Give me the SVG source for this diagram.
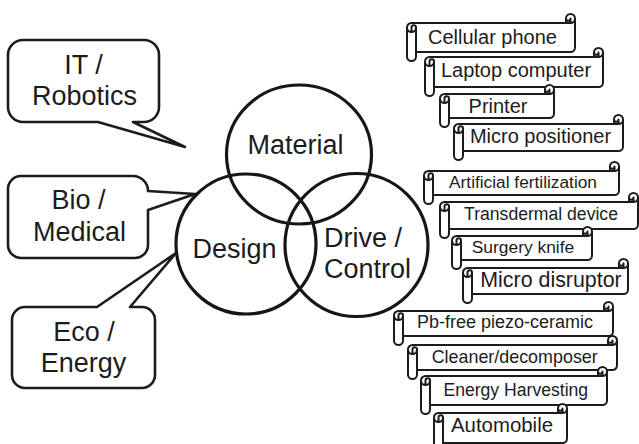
<svg xmlns="http://www.w3.org/2000/svg" width="639" height="444" viewBox="0 0 639 444">
  <style>
    .t { font-family: "Liberation Sans", Arial, Helvetica, sans-serif; fill: #1c1c1c; }
    .big { font-size: 27px; }
    .callout { fill: #fff; stroke: #1c1c1c; stroke-width: 2.6; stroke-linejoin: round; }
    .ring { fill: none; stroke: #161616; stroke-width: 3.2; }
    .scroll { fill: #fff; stroke: #1c1c1c; stroke-width: 2; stroke-linejoin: round; }
  </style>

  <!-- field callouts -->
  <g id="it-robotics">
    <path class="callout" d="M23,40 H144 A15,15 0 0 1 159,55 V107 A15,15 0 0 1 144,122 H133 L185,147 L98,122 H23 A15,15 0 0 1 8,107 V55 A15,15 0 0 1 23,40 Z"/>
    <text class="t big" x="83.5" y="74" text-anchor="middle">IT /</text>
    <text class="t big" x="84.5" y="105" text-anchor="middle">Robotics</text>
  </g>
  <g id="bio-medical">
    <path class="callout" d="M21,176 H133 A15,15 0 0 1 148,191 L195,194 L148,210 V245 A13,13 0 0 1 135,258 H21 A13,13 0 0 1 8,245 V189 A13,13 0 0 1 21,176 Z"/>
    <text class="t big" x="78.5" y="209" text-anchor="middle">Bio /</text>
    <text class="t big" x="79.5" y="241" text-anchor="middle">Medical</text>
  </g>
  <g id="eco-energy">
    <path class="callout" d="M25,307 H97 L176,253 L130,307 H142 A13,13 0 0 1 155,320 V375 A13,13 0 0 1 142,388 H25 A13,13 0 0 1 12,375 V320 A13,13 0 0 1 25,307 Z"/>
    <text class="t big" x="84" y="341" text-anchor="middle">Eco /</text>
    <text class="t big" x="83.5" y="372" text-anchor="middle">Energy</text>
  </g>

  <!-- three overlapping disciplines -->
  <g id="material">
    <ellipse class="ring" cx="299" cy="154.5" rx="72.5" ry="69.5"/>
    <text class="t big" x="295.5" y="154" text-anchor="middle">Material</text>
  </g>
  <g id="design">
    <ellipse class="ring" cx="246" cy="244" rx="70" ry="70"/>
    <text class="t big" x="234.5" y="258" text-anchor="middle">Design</text>
  </g>
  <g id="drive-control">
    <ellipse class="ring" cx="356.5" cy="245" rx="71.5" ry="71.5"/>
    <text class="t big" x="324" y="247">Drive /</text>
    <text class="t big" x="324" y="278">Control</text>
  </g>

  <!-- application scrolls -->
  <g id="cellular-phone" transform="translate(407,14)">
    <path class="scroll" d="M0,13.5 A4.5,4.5 0 0 1 4.5,9 H159 V4.5 A4.5,4.5 0 0 1 168,4.5 V33.5 A4.5,4.5 0 0 1 163.5,38 H9 V42.5 A4.5,4.5 0 0 1 0,42.5 Z M159,9 H163.5 A4.5,4.5 0 0 0 168,4.5 M163.5,9 V4.5 A2.25,2.25 0 0 1 159,4.5 M4.5,18 V13.5 A2.25,2.25 0 0 1 9,13.5 A4.5,4.5 0 0 1 0,13.5 M9,13.5 V38"/>
    <text class="t" font-size="20" x="85.5" y="30.3" text-anchor="middle">Cellular phone</text>
  </g>
  <g id="laptop-computer" transform="translate(425,48)">
    <path class="scroll" d="M0,13.5 A4.5,4.5 0 0 1 4.5,9 H169 V4.5 A4.5,4.5 0 0 1 178,4.5 V34.5 A4.5,4.5 0 0 1 173.5,39 H9 V43.5 A4.5,4.5 0 0 1 0,43.5 Z M169,9 H173.5 A4.5,4.5 0 0 0 178,4.5 M173.5,9 V4.5 A2.25,2.25 0 0 1 169,4.5 M4.5,18 V13.5 A2.25,2.25 0 0 1 9,13.5 A4.5,4.5 0 0 1 0,13.5 M9,13.5 V39"/>
    <text class="t" font-size="20" x="91" y="29.3" text-anchor="middle">Laptop computer</text>
  </g>
  <g id="printer" transform="translate(440,85)">
    <path class="scroll" d="M0,13.5 A4.5,4.5 0 0 1 4.5,9 H105 V4.5 A4.5,4.5 0 0 1 114,4.5 V28.5 A4.5,4.5 0 0 1 109.5,33 H9 V37.5 A4.5,4.5 0 0 1 0,37.5 Z M105,9 H109.5 A4.5,4.5 0 0 0 114,4.5 M109.5,9 V4.5 A2.25,2.25 0 0 1 105,4.5 M4.5,18 V13.5 A2.25,2.25 0 0 1 9,13.5 A4.5,4.5 0 0 1 0,13.5 M9,13.5 V33"/>
    <text class="t" font-size="20" x="58" y="28.3" text-anchor="middle">Printer</text>
  </g>
  <g id="micro-positioner" transform="translate(454,115)">
    <path class="scroll" d="M0,13.5 A4.5,4.5 0 0 1 4.5,9 H160 V4.5 A4.5,4.5 0 0 1 169,4.5 V31.5 A4.5,4.5 0 0 1 164.5,36 H9 V40.5 A4.5,4.5 0 0 1 0,40.5 Z M160,9 H164.5 A4.5,4.5 0 0 0 169,4.5 M164.5,9 V4.5 A2.25,2.25 0 0 1 160,4.5 M4.5,18 V13.5 A2.25,2.25 0 0 1 9,13.5 A4.5,4.5 0 0 1 0,13.5 M9,13.5 V36"/>
    <text class="t" font-size="20" x="86.5" y="27.7" text-anchor="middle">Micro positioner</text>
  </g>
  <g id="artificial-fertilization" transform="translate(424,162)">
    <path class="scroll" d="M0,13.5 A4.5,4.5 0 0 1 4.5,9 H186 V4.5 A4.5,4.5 0 0 1 195,4.5 V28.5 A4.5,4.5 0 0 1 190.5,33 H9 V37.5 A4.5,4.5 0 0 1 0,37.5 Z M186,9 H190.5 A4.5,4.5 0 0 0 195,4.5 M190.5,9 V4.5 A2.25,2.25 0 0 1 186,4.5 M4.5,18 V13.5 A2.25,2.25 0 0 1 9,13.5 A4.5,4.5 0 0 1 0,13.5 M9,13.5 V33"/>
    <text class="t" font-size="17.3" x="99" y="26.3" text-anchor="middle">Artificial fertilization</text>
  </g>
  <g id="transdermal-device" transform="translate(440,193)">
    <path class="scroll" d="M0,13.5 A4.5,4.5 0 0 1 4.5,9 H189 V4.5 A4.5,4.5 0 0 1 198,4.5 V31.5 A4.5,4.5 0 0 1 193.5,36 H9 V40.5 A4.5,4.5 0 0 1 0,40.5 Z M189,9 H193.5 A4.5,4.5 0 0 0 198,4.5 M193.5,9 V4.5 A2.25,2.25 0 0 1 189,4.5 M4.5,18 V13.5 A2.25,2.25 0 0 1 9,13.5 A4.5,4.5 0 0 1 0,13.5 M9,13.5 V36"/>
    <text class="t" font-size="17.6" x="101" y="27" text-anchor="middle">Transdermal device</text>
  </g>
  <g id="surgery-knife" transform="translate(452,227)">
    <path class="scroll" d="M0,13.5 A4.5,4.5 0 0 1 4.5,9 H131 V4.5 A4.5,4.5 0 0 1 140,4.5 V28.5 A4.5,4.5 0 0 1 135.5,33 H9 V37.5 A4.5,4.5 0 0 1 0,37.5 Z M131,9 H135.5 A4.5,4.5 0 0 0 140,4.5 M135.5,9 V4.5 A2.25,2.25 0 0 1 131,4.5 M4.5,18 V13.5 A2.25,2.25 0 0 1 9,13.5 A4.5,4.5 0 0 1 0,13.5 M9,13.5 V33"/>
    <text class="t" font-size="17.4" x="71" y="26" text-anchor="middle">Surgery knife</text>
  </g>
  <g id="micro-disruptor" transform="translate(463,259)">
    <path class="scroll" d="M0,13.5 A4.5,4.5 0 0 1 4.5,9 H156 V4.5 A4.5,4.5 0 0 1 165,4.5 V30.5 A4.5,4.5 0 0 1 160.5,35 H9 V39.5 A4.5,4.5 0 0 1 0,39.5 Z M156,9 H160.5 A4.5,4.5 0 0 0 165,4.5 M160.5,9 V4.5 A2.25,2.25 0 0 1 156,4.5 M4.5,18 V13.5 A2.25,2.25 0 0 1 9,13.5 A4.5,4.5 0 0 1 0,13.5 M9,13.5 V35"/>
    <text class="t" font-size="21.4" x="88" y="27.7" text-anchor="middle">Micro disruptor</text>
  </g>
  <g id="pb-free-piezo-ceramic" transform="translate(394,302)">
    <path class="scroll" d="M0,13.5 A4.5,4.5 0 0 1 4.5,9 H210 V4.5 A4.5,4.5 0 0 1 219,4.5 V29.5 A4.5,4.5 0 0 1 214.5,34 H9 V38.5 A4.5,4.5 0 0 1 0,38.5 Z M210,9 H214.5 A4.5,4.5 0 0 0 219,4.5 M214.5,9 V4.5 A2.25,2.25 0 0 1 210,4.5 M4.5,18 V13.5 A2.25,2.25 0 0 1 9,13.5 A4.5,4.5 0 0 1 0,13.5 M9,13.5 V34"/>
    <text class="t" font-size="18" x="111" y="25.5" text-anchor="middle">Pb-free piezo-ceramic</text>
  </g>
  <g id="cleaner-decomposer" transform="translate(408,336)">
    <path class="scroll" d="M0,13.5 A4.5,4.5 0 0 1 4.5,9 H200 V4.5 A4.5,4.5 0 0 1 209,4.5 V29.5 A4.5,4.5 0 0 1 204.5,34 H9 V38.5 A4.5,4.5 0 0 1 0,38.5 Z M200,9 H204.5 A4.5,4.5 0 0 0 209,4.5 M204.5,9 V4.5 A2.25,2.25 0 0 1 200,4.5 M4.5,18 V13.5 A2.25,2.25 0 0 1 9,13.5 A4.5,4.5 0 0 1 0,13.5 M9,13.5 V34"/>
    <text class="t" font-size="17.9" x="106.7" y="26.7" text-anchor="middle">Cleaner/decomposer</text>
  </g>
  <g id="energy-harvesting" transform="translate(421,367)">
    <path class="scroll" d="M0,13.5 A4.5,4.5 0 0 1 4.5,9 H177 V4.5 A4.5,4.5 0 0 1 186,4.5 V33.5 A4.5,4.5 0 0 1 181.5,38 H9 V42.5 A4.5,4.5 0 0 1 0,42.5 Z M177,9 H181.5 A4.5,4.5 0 0 0 186,4.5 M181.5,9 V4.5 A2.25,2.25 0 0 1 177,4.5 M4.5,18 V13.5 A2.25,2.25 0 0 1 9,13.5 A4.5,4.5 0 0 1 0,13.5 M9,13.5 V38"/>
    <text class="t" font-size="17.6" x="94.8" y="29" text-anchor="middle">Energy Harvesting</text>
  </g>
  <g id="automobile" transform="translate(434,404)">
    <path class="scroll" d="M0,13.5 A4.5,4.5 0 0 1 4.5,9 H124 V4.5 A4.5,4.5 0 0 1 133,4.5 V34.5 A4.5,4.5 0 0 1 128.5,39 H9 V43.5 A4.5,4.5 0 0 1 0,43.5 Z M124,9 H128.5 A4.5,4.5 0 0 0 133,4.5 M128.5,9 V4.5 A2.25,2.25 0 0 1 124,4.5 M4.5,18 V13.5 A2.25,2.25 0 0 1 9,13.5 A4.5,4.5 0 0 1 0,13.5 M9,13.5 V39"/>
    <text class="t" font-size="20.4" x="68" y="27.7" text-anchor="middle">Automobile</text>
  </g>
</svg>
